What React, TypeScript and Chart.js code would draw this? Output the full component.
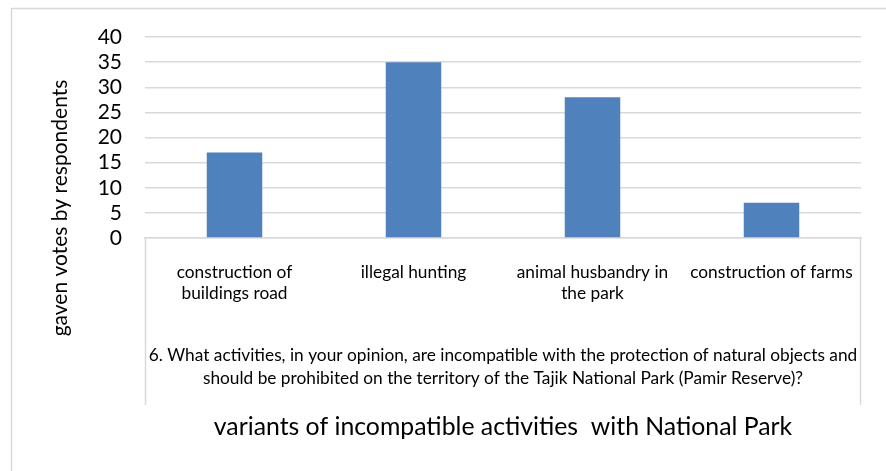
import React, { useEffect, useRef } from "react";
import { Chart, registerables } from "chart.js";

Chart.register(...registerables);

const categories: string[][] = [
  ["construction of", "buildings road"],
  ["illegal hunting"],
  ["animal husbandry in", "the park"],
  ["construction of farms"],
];
const votes: number[] = [17, 35, 28, 7];
const groupLabel: string[] = [
  "6. What activities, in your opinion, are incompatible with the protection of natural objects and",
  "should be prohibited on the territory of the Tajik National Park (Pamir Reserve)?",
];
const xTitle = "variants of incompatible activities  with National Park";
const yTitle = "gaven votes by respondents";
const yMin = 0;
const yMax = 40;
const yStep = 5;

const FONT = "Lato, 'Open Sans', sans-serif";
const GRID = "#d9d9d9";

const decorPlugin = {
  id: "decor",
  afterDraw(chart: any) {
    const { ctx, chartArea } = chart;
    const { left, right, bottom } = chartArea;
    const cx = (left + right) / 2;
    ctx.save();
    // outer border
    ctx.strokeStyle = GRID;
    ctx.lineWidth = 1.5;
    ctx.beginPath();
    ctx.moveTo(11.5, 471);
    ctx.lineTo(11.5, 8.5);
    ctx.lineTo(886, 8.5);
    ctx.stroke();
    // category group separators
    ctx.beginPath();
    ctx.moveTo(left + 0.5, bottom);
    ctx.lineTo(left + 0.5, 405);
    ctx.moveTo(right - 0.5, bottom);
    ctx.lineTo(right - 0.5, 405);
    ctx.stroke();
    // group label
    ctx.fillStyle = "#000";
    ctx.textAlign = "center";
    ctx.textBaseline = "middle";
    ctx.font = `17.3px ${FONT}`;
    groupLabel.forEach((line, i) => {
      ctx.fillText(line, cx, 355 + i * 23);
    });
    // x title
    ctx.font = `24.8px ${FONT}`;
    ctx.fillText(xTitle, cx, 427);
    // y title
    ctx.font = `21px ${FONT}`;
    ctx.translate(60, 208);
    ctx.rotate(-Math.PI / 2);
    ctx.fillText(yTitle, 0, 0);
    ctx.restore();
  },
};

export default function App() {
  const ref = useRef<HTMLCanvasElement>(null);
  useEffect(() => {
    if (!ref.current) return;
    const chart = new Chart(ref.current, {
      type: "bar",
      data: {
        labels: categories,
        datasets: [
          {
            data: votes,
            backgroundColor: "#4f81bd",
            categoryPercentage: 1,
            barPercentage: 0.31,
          },
        ],
      },
      options: {
        responsive: false,
        animation: false,
        layout: { padding: { top: 37, right: 25, left: 0, bottom: 0 } },
        plugins: {
          legend: { display: false },
          tooltip: { enabled: false },
          title: { display: false },
        },
        scales: {
          x: {
            grid: { display: false, drawTicks: false },
            border: { display: true, color: GRID, width: 1.5 },
            ticks: {
              color: "#000",
              font: { family: FONT, size: 17.3, lineHeight: 1.22 },
              padding: 24,
              maxRotation: 0,
              autoSkip: false,
            },
            afterFit: (s: any) => {
              s.height = 471 - 238;
            },
          },
          y: {
            min: yMin,
            max: yMax,
            grid: { color: GRID, lineWidth: 1.5, drawTicks: false },
            border: { display: false },
            ticks: {
              stepSize: yStep,
              autoSkip: false,
              color: "#000",
              font: { family: FONT, size: 21 },
              padding: 23,
            },
            afterFit: (s: any) => {
              s.width = 145;
            },
          },
        },
      },
      plugins: [decorPlugin],
    });
    return () => chart.destroy();
  }, []);
  return (
    <div style={{ position: "fixed", left: 0, top: 0, width: 886, height: 471, background: "#fff" }}>
      <canvas ref={ref} width={886} height={471} />
    </div>
  );
}
